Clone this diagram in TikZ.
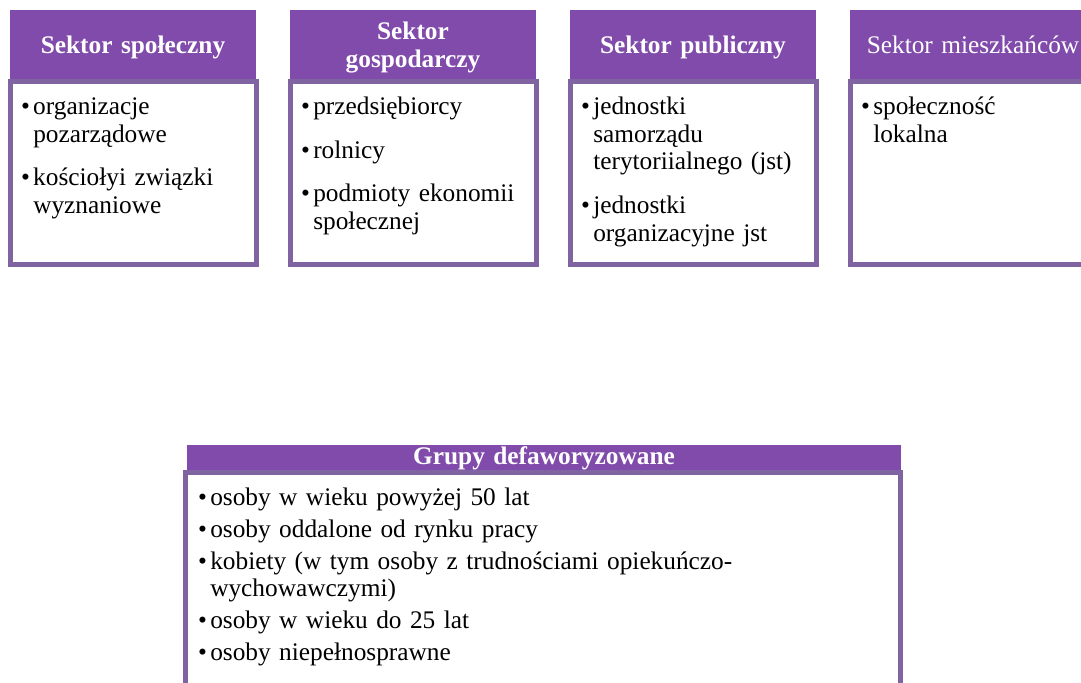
\documentclass[tikz,border=0pt]{standalone}
\usepackage{fontspec}
\setmainfont{Liberation Serif}
\definecolor{hdrpurple}{RGB}{128,75,170}
\definecolor{brdpurple}{RGB}{128,100,162}
\newlength\itemgap
\newcommand{\fitem}{\noindent\llap{\textbullet\hspace{2.5pt}}}
\newcommand{\bitem}{\par\setlength{\parskip}{\itemgap}\noindent\llap{\textbullet\hspace{2.5pt}}}
\begin{document}
\begin{tikzpicture}[x=0.75pt,y=-0.75pt,
  hdr/.style={fill=hdrpurple},
  body/.style={draw=brdpurple,line width=3.9pt,fill=white},
  title/.style={text=white,font=\fontsize{19}{21}\selectfont\bfseries,align=center,inner sep=0pt,anchor=base,text width=180pt},
  titlereg/.style={title,font=\fontsize{19}{21}\selectfont},
  list/.style={font=\fontsize{19}{20.8}\selectfont\setlength{\itemgap}{12pt},align=left,inner sep=0pt,anchor=base west,text width=300pt},
  blist/.style={list,font=\fontsize{19}{20.6}\selectfont\setlength{\itemgap}{3.4pt}}]
\useasboundingbox (0,0) rectangle (1081,682);
\clip (0,0) rectangle (1081,682);
% Box 1
\draw[body] (10.5,81.5) rectangle (256.5,264.5);
\fill[hdr] (10,10) rectangle (256,79);
\node[title] (t1) at (133,53) {Sektor społeczny};
\node[list] (l1) at (33,114.5) {\fitem organizacje\\pozarządowe\bitem kościołyi związki\\wyznaniowe};
% Box 2
\draw[body] (290.5,81.5) rectangle (536.5,264.5);
\fill[hdr] (290,10) rectangle (536,79);
\node[title] (t2) at (413,39) {Sektor\\gospodarczy};
\node[list] (l2) at (313,114.5) {\fitem przedsiębiorcy\bitem rolnicy\bitem podmioty ekonomii\\społecznej};
% Box 3
\draw[body] (570.5,81.5) rectangle (816.5,264.5);
\fill[hdr] (570,10) rectangle (816,79);
\node[title] (t3) at (693,53) {Sektor publiczny};
\node[list] (l3) at (593,114.5) {\fitem jednostki\\samorządu\\terytoriialnego (jst)\bitem jednostki\\organizacyjne jst};
% Box 4
\draw[body] (850.5,81.5) rectangle (1096.5,264.5);
\fill[hdr] (850,10) rectangle (1096,79);
\node[titlereg] (t4) at (973,53) {Sektor mieszkańców};
\node[list] (l4) at (873,114.5) {\fitem społeczność\\lokalna};
% Bottom box
\draw[body] (185.5,472.5) rectangle (900.5,720);
\fill[hdr] (187,445) rectangle (901,470);
\node[title,text width=520pt] (t5) at (544,464) {Grupy defaworyzowane};
\node[blist,text width=520pt] (l5) at (210,505) {\fitem osoby w wieku powyżej 50 lat\bitem osoby oddalone od rynku pracy\bitem kobiety (w tym osoby z trudnościami opiekuńczo-\\wychowawczymi)\bitem osoby w wieku do 25 lat\bitem osoby niepełnosprawne};
\end{tikzpicture}
\end{document}
